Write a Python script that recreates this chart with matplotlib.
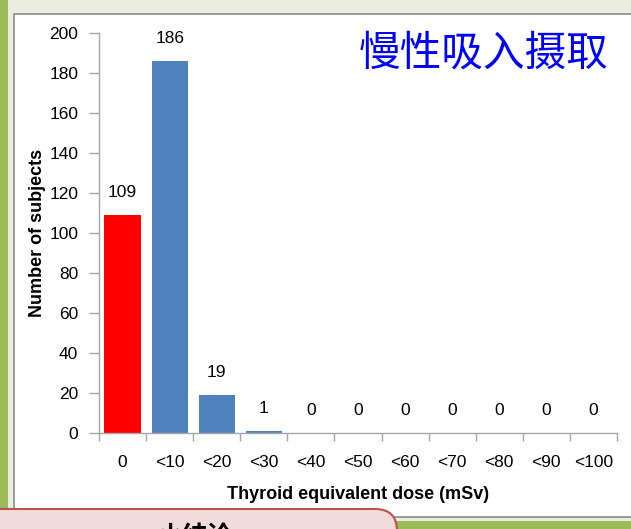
import matplotlib
matplotlib.use("Agg")
import matplotlib.pyplot as plt
from matplotlib.patches import Rectangle, FancyBboxPatch

plt.rcParams['font.family'] = ['Liberation Sans', 'DejaVu Sans']

# Dose bins and number of subjects in each
categories = ["0", "<10", "<20", "<30", "<40", "<50", "<60", "<70", "<80", "<90", "<100"]
subjects = [109, 186, 19, 1, 0, 0, 0, 0, 0, 0, 0]
bar_colors = ["#ff0000"] + ["#4f81bd"] * 10

title = "慢性吸入摄取"
xlabel = "Thyroid equivalent dose (mSv)"
ylabel = "Number of subjects"

W, H = 631, 529
fig = plt.figure(figsize=(W / 100, H / 100), dpi=100)

# Slide backdrop drawn in pixel coordinates
bg = fig.add_axes([0, 0, 1, 1], zorder=0)
bg.set_xlim(0, W)
bg.set_ylim(H, 0)
bg.axis("off")
bg.add_patch(Rectangle((0, 0), W, H, facecolor="#ebeedf", edgecolor="none"))
bg.add_patch(Rectangle((0, 0), 8, H, facecolor="#9bbb59", edgecolor="none"))
bg.add_patch(Rectangle((0, 521), W, 10, facecolor="#9bbb59", edgecolor="none"))
bg.add_patch(Rectangle((14, 14), W, 503, facecolor="white", edgecolor="#8a8a8a", linewidth=1.2))
bg.add_patch(FancyBboxPatch((-30, 509), 427, 60, boxstyle="round,pad=0,rounding_size=22",
                            facecolor="#f2dcdb", edgecolor="#c0504d", linewidth=1.5))
bg.text(157, 526, "小结论", fontsize=18, fontweight="bold", va="top", ha="left",
        family=["Noto Sans CJK SC", "DejaVu Sans"], color="black")

# Bar chart
ax = fig.add_axes([99 / W, 1 - 433 / H, 518 / W, 400 / H], zorder=1)
ax.patch.set_alpha(0)
x = list(range(len(categories)))
ax.bar(x, subjects, width=0.77, color=bar_colors)
for xi, v in zip(x, subjects):
    ax.annotate(str(v), (xi, v), xytext=(0, 16), textcoords="offset points",
                ha="center", va="center", fontsize=12.5)

ax.set_xlim(-0.5, len(categories) - 0.5)
ax.set_ylim(0, 200)
ax.set_yticks(range(0, 201, 20))
ax.set_xticks(x)
ax.set_xticklabels(categories)
ax.set_xticks([i - 0.5 for i in range(len(categories) + 1)], minor=True)
ax.tick_params(axis="x", which="major", length=0, pad=16, labelsize=12.5)
ax.tick_params(axis="x", which="minor", length=6, color="#a6a6a6", width=1)
ax.tick_params(axis="y", length=7, color="#a6a6a6", width=1, pad=8, labelsize=12.5)
for side in ("top", "right"):
    ax.spines[side].set_visible(False)
for side in ("left", "bottom"):
    ax.spines[side].set_color("#a6a6a6")
    ax.spines[side].set_linewidth(1)

ax.set_xlabel(xlabel, fontsize=13, fontweight="bold", labelpad=11)
ax.set_ylabel(ylabel, fontsize=13, fontweight="bold", labelpad=2)

fig.text(608 / W, 1 - 54 / H, title, fontsize=30, color="#0000ff", ha="right", va="center",
         fontweight="medium", family=["Noto Sans CJK SC", "DejaVu Sans"])

fig.savefig("out.png", dpi=100)
